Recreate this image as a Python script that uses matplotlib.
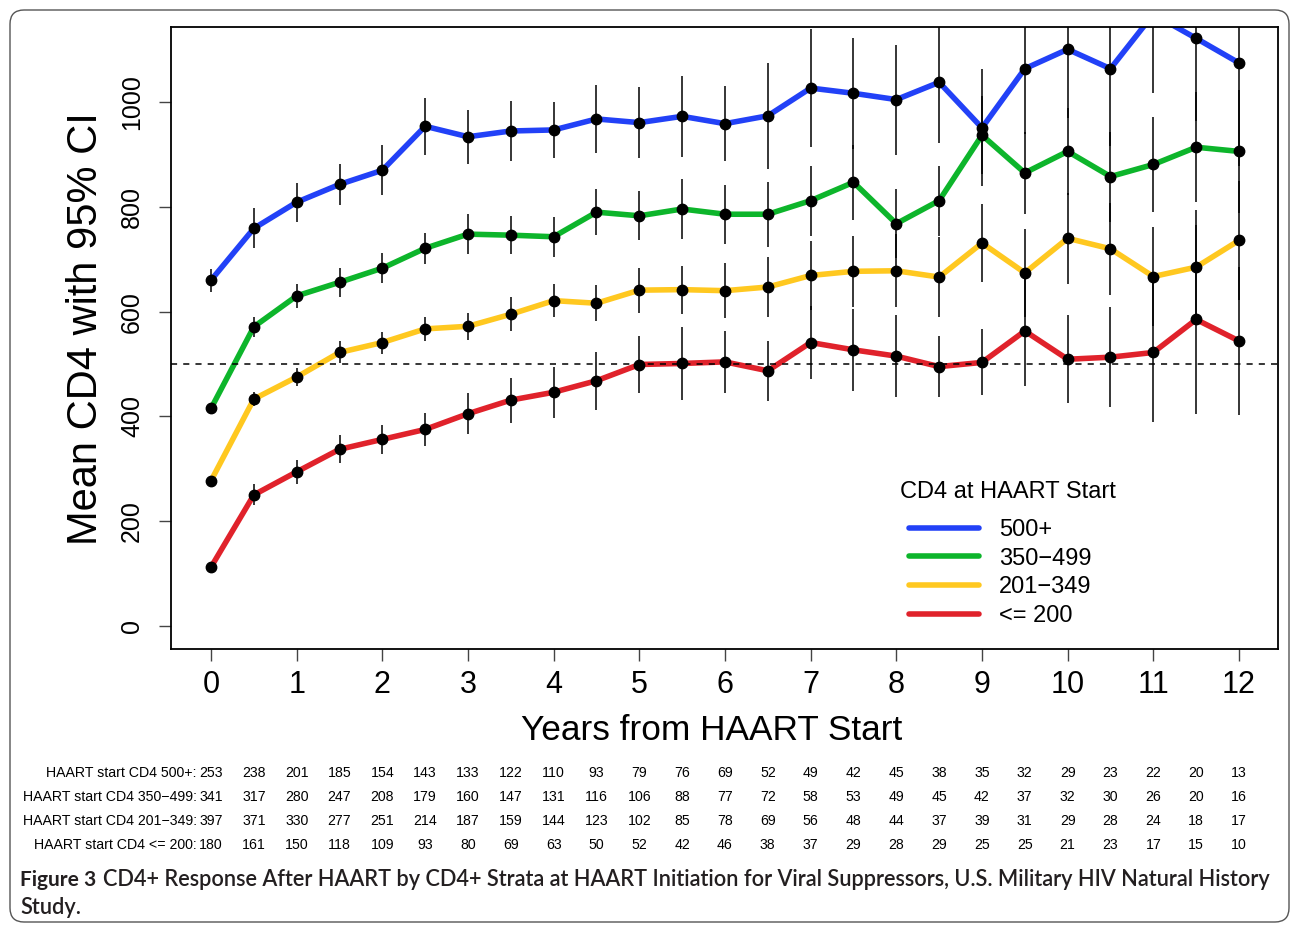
import matplotlib.pyplot as plt
import matplotlib.transforms as mtransforms
from matplotlib.patches import FancyBboxPatch
from matplotlib.lines import Line2D

plt.rcParams['font.family'] = ['Liberation Sans', 'DejaVu Sans']

# years from HAART start
years = [0, 0.5, 1, 1.5, 2, 2.5, 3, 3.5, 4, 4.5, 5, 5.5, 6, 6.5, 7, 7.5, 8, 8.5,
         9, 9.5, 10, 10.5, 11, 11.5, 12]

# mean CD4 per stratum
cd4_500 = [660, 759, 809, 843, 870, 954, 934, 945, 947, 968, 961, 973, 959, 974,
           1027, 1017, 1005, 1038, 951, 1064, 1101, 1064, 1168, 1122, 1075]
cd4_350 = [415, 571, 630, 656, 683, 721, 748, 746, 743, 790, 783, 796, 786, 786,
           812, 847, 768, 812, 937, 865, 906, 858, 881, 914, 906]
cd4_201 = [277, 433, 475, 522, 541, 567, 572, 595, 621, 616, 641, 642, 640, 647,
           669, 677, 678, 666, 731, 674, 740, 720, 667, 685, 736]
cd4_200 = [112, 250, 294, 337, 356, 375, 405, 431, 446, 468, 499, 501, 504, 487,
           541, 527, 515, 495, 503, 563, 509, 513, 522, 585, 544]

# half-width of the 95% CI
ci_500 = [22, 38, 37, 39, 48, 54, 52, 57, 54, 65, 68, 77, 72, 101, 112, 106, 105,
          115, 112, 125, 131, 147, 150, 158, 196]
ci_350 = [6, 19, 23, 28, 29, 30, 38, 36, 38, 44, 47, 57, 56, 62, 67, 72, 66, 67,
          75, 78, 83, 86, 90, 105, 118]
ci_201 = [5, 14, 17, 21, 21, 23, 26, 32, 32, 34, 43, 46, 53, 57, 66, 68, 70, 77,
          75, 84, 87, 88, 95, 110, 113]
ci_200 = [8, 20, 23, 27, 27, 32, 39, 43, 49, 55, 55, 69, 59, 57, 70, 78, 78, 58,
          63, 105, 84, 95, 132, 181, 141]

# number at risk
n_500 = [253, 238, 201, 185, 154, 143, 133, 122, 110, 93, 79, 76, 69, 52, 49, 42,
         45, 38, 35, 32, 29, 23, 22, 20, 13]
n_350 = [341, 317, 280, 247, 208, 179, 160, 147, 131, 116, 106, 88, 77, 72, 58, 53,
         49, 45, 42, 37, 32, 30, 26, 20, 16]
n_201 = [397, 371, 330, 277, 251, 214, 187, 159, 144, 123, 102, 85, 78, 69, 56, 48,
         44, 37, 39, 31, 29, 28, 24, 18, 17]
n_200 = [180, 161, 150, 118, 109, 93, 80, 69, 63, 50, 52, 42, 46, 38, 37, 29, 28,
         29, 25, 25, 21, 23, 17, 15, 10]

strata = ['500+', '350\u2212499', '201\u2212349', '<= 200']
colors = ['#2241F7', '#0DB52B', '#FFC820', '#E0222B']
means = [cd4_500, cd4_350, cd4_201, cd4_200]
cis = [ci_500, ci_350, ci_201, ci_200]
counts = [n_500, n_350, n_201, n_200]

W, H = 1293, 925
fig = plt.figure(figsize=(W / 100, H / 100), dpi=100)
ax = fig.add_axes([171 / W, 1 - 648.8 / H, (1278.3 - 171) / W, (648.8 - 26.8) / H])

for m, c, col in zip(means, cis, colors):
    ax.plot(years, m, color=col, lw=4, solid_capstyle='round', zorder=2)
    lo = [a - b for a, b in zip(m, c)]
    hi = [a + b for a, b in zip(m, c)]
    ax.vlines(years, lo, hi, color='black', lw=1.1, zorder=3)
    ax.plot(years, m, 'o', color='black', ms=7.5, zorder=4)

ax.axhline(500, color='black', lw=1.1, ls=(0, (4, 4)), zorder=2.5)

ax.set_xlim(-0.467, 12.459)
ax.set_ylim(-44, 1144)
ax.set_xticks(range(13))
ax.set_yticks([0, 200, 400, 600, 800, 1000])
ax.tick_params(axis='both', direction='out', length=8.5, width=1, color='#444444')
ax.tick_params(axis='x', labelsize=22, pad=6.5)
ax.tick_params(axis='y', labelsize=18, pad=11)
for lab in ax.get_yticklabels():
    lab.set_rotation(90)
    lab.set_va('center')
for s in ax.spines.values():
    s.set_linewidth(1.3)

ax.set_xlabel('Years from HAART Start', fontsize=25.4)
ax.xaxis.set_label_coords(712 / W, 1 - 731 / H, transform=fig.transFigure)
ax.xaxis.label.set_va('center')
ax.set_ylabel('Mean CD4 with 95% CI', fontsize=30)
ax.yaxis.set_label_coords(86 / W, 1 - 329 / H, transform=fig.transFigure)
ax.yaxis.label.set_va('center')
ax.yaxis.label.set_ha('center')

# legend: title as separate text so it sits like the R legend
fig.text(1008 / W, 1 - 492 / H, 'CD4 at HAART Start', fontsize=17,
         ha='center', va='center')
handles = [Line2D([0], [0], color=col, lw=4, solid_capstyle='round') for col in colors]
ax.legend(handles, strata, loc='upper left',
          bbox_to_anchor=(909 / W, 1 - 519 / H), bbox_transform=fig.transFigure,
          frameon=False, fontsize=17, handlelength=2.95,
          handletextpad=0.85, labelspacing=0.28, borderpad=0, borderaxespad=0)

# numbers at risk under the x axis
trans = mtransforms.blended_transform_factory(ax.transData, fig.transFigure)
row_y = [773, 797, 821, 845]
for name, n, py in zip(strata, counts, row_y):
    fig.text(197 / W, 1 - py / H, 'HAART start CD4 ' + name + ':', fontsize=10.2,
             ha='right', va='center')
    for x, v in zip(years, n):
        ax.text(x, 1 - py / H, str(v), transform=trans, fontsize=10.2,
                ha='center', va='center')

# caption
cap_font = ['Lato', 'DejaVu Sans']
cap_color = '#231F20'
t1 = fig.text(20 / W, 1 - 880 / H, 'Figure 3', fontsize=15, fontweight='bold',
              family=cap_font, color=cap_color, va='center')
fig.canvas.draw()
renderer = fig.canvas.get_renderer()
x1 = t1.get_window_extent(renderer).x1
t2 = fig.text((x1 + 7) / W, 1 - 880 / H,
              'CD4+ Response After HAART by CD4+ Strata at HAART Initiation for Viral '
              'Suppressors, U.S. Military HIV Natural History',
              fontsize=14.5, fontweight='semibold', family=cap_font, color=cap_color,
              va='center')
# stretch the first caption line out to the right margin, as in a justified line
w2 = t2.get_window_extent(renderer).width
cap_size = 14.5 * (1278 - x1 - 7) / w2
t2.set_fontsize(cap_size)
fig.text(20 / W, 1 - 907 / H, 'Study.', fontsize=cap_size, fontweight='semibold',
         family=cap_font, color=cap_color, va='center')

# rounded frame around the figure panel
frame = FancyBboxPatch((10, 3), 1279, 912, boxstyle='round,pad=0,rounding_size=14',
                       transform=mtransforms.IdentityTransform(), fill=False,
                       edgecolor='#555555', lw=1.0)
fig.patches.append(frame)

fig.savefig('out.png', dpi=100)
